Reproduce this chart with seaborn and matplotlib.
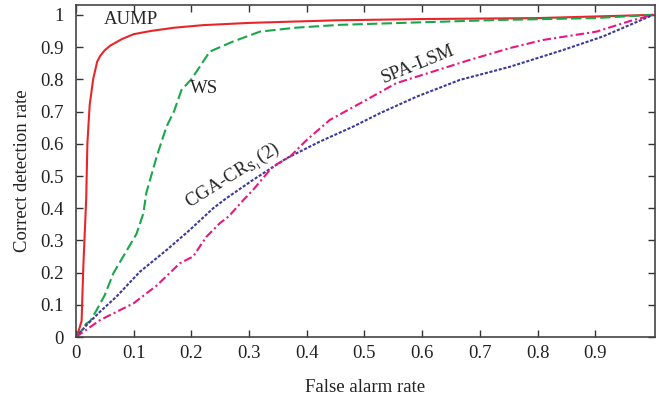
import seaborn as sns
import matplotlib.pyplot as plt
import pandas as pd
import numpy as np

# ROC curves (false alarm rate, correct detection rate)
aump_x = [0, 0.005, 0.01, 0.013, 0.018, 0.02, 0.024, 0.03, 0.037, 0.042, 0.05, 0.06, 0.08, 0.1,
          0.13, 0.17, 0.22, 0.3, 0.45, 0.6, 0.8, 1.0]
aump_y = [0, 0.02, 0.05, 0.22, 0.43, 0.6, 0.72, 0.8, 0.855, 0.872, 0.89, 0.905, 0.925, 0.94,
          0.95, 0.96, 0.968, 0.975, 0.983, 0.987, 0.99, 1.0]

ws_x = [0, 0.01, 0.018, 0.025, 0.036, 0.05, 0.065, 0.082, 0.105, 0.117, 0.122, 0.14, 0.157,
        0.17, 0.183, 0.2, 0.215, 0.232, 0.272, 0.319, 0.38, 0.457, 0.6, 0.73, 0.9, 1.0]
ws_y = [0, 0.02, 0.042, 0.05, 0.084, 0.13, 0.198, 0.25, 0.32, 0.384, 0.447, 0.56, 0.653,
        0.7, 0.767, 0.8, 0.84, 0.886, 0.917, 0.948, 0.96, 0.969, 0.977, 0.984, 0.99, 1.0]

cga_x = [0, 0.02, 0.042, 0.07, 0.111, 0.157, 0.197, 0.238, 0.26, 0.307, 0.365, 0.423, 0.48,
         0.527, 0.59, 0.665, 0.752, 0.844, 0.913, 0.96, 1.0]
cga_y = [0, 0.04, 0.079, 0.125, 0.203, 0.27, 0.332, 0.4, 0.43, 0.488, 0.555, 0.607, 0.653,
         0.695, 0.746, 0.798, 0.839, 0.891, 0.933, 0.969, 1.0]

spa_x = [0, 0.042, 0.1, 0.14, 0.18, 0.203, 0.226, 0.249, 0.265, 0.29, 0.307, 0.341, 0.371,
         0.4, 0.44, 0.503, 0.555, 0.682, 0.752, 0.809, 0.902, 0.96, 1.0]
spa_y = [0, 0.053, 0.105, 0.16, 0.229, 0.25, 0.311, 0.353, 0.375, 0.425, 0.457, 0.529, 0.56,
         0.612, 0.674, 0.736, 0.788, 0.86, 0.897, 0.922, 0.948, 0.981, 1.0]

x_ticks = [0, 0.1, 0.2, 0.3, 0.4, 0.5, 0.6, 0.7, 0.8, 0.9]
y_ticks = [0, 0.1, 0.2, 0.3, 0.4, 0.5, 0.6, 0.7, 0.8, 0.9, 1.0]
y_tick_labels = ['0', '0.1', '0.2', '0.3', '0.4', '0.5', '0.6', '0.7', '0.8', '0.9', '1']
x_tick_labels = ['0', '0.1', '0.2', '0.3', '0.4', '0.5', '0.6', '0.7', '0.8', '0.9']

sns.set_style('ticks')
plt.rcParams['font.family'] = ['Liberation Serif', 'DejaVu Serif']
plt.rcParams['mathtext.fontset'] = 'stix'

fig = plt.figure(figsize=(6.71, 3.99), dpi=100)
ax = fig.add_axes([0.113, 0.155, 0.863, 0.832])

sns.lineplot(x=aump_x, y=aump_y, ax=ax, color='#e8262a', lw=1.5, sort=False, estimator=None)
sns.lineplot(x=ws_x, y=ws_y, ax=ax, color='#1aa64a', lw=1.5, sort=False, estimator=None,
             linestyle=(0, (5, 2)))
sns.lineplot(x=cga_x, y=cga_y, ax=ax, color='#3a3a9c', lw=1.5, sort=False, estimator=None,
             linestyle=(0, (1.5, 0.8)))
sns.lineplot(x=spa_x, y=spa_y, ax=ax, color='#e8177f', lw=1.5, sort=False, estimator=None,
             linestyle=(0, (4, 1.5, 1, 1.5)))

# curve labels
ax.text(0.095, 0.985, 'AUMP', fontsize=13.5, ha='center', va='center')
ax.text(0.222, 0.773, 'WS', fontsize=13.5, ha='center', va='center')
ax.text(0.592, 0.845, 'SPA-LSM', fontsize=13.5, ha='center', va='center', rotation=22)
ax.text(0.272, 0.5, r'CGA-CR$_{\mathrm{S}_1}$(2)', fontsize=13.5, ha='center', va='center',
        rotation=32)

ax.set_xlim(0, 1.003)
ax.set_ylim(0, 1.03)
ax.set_xticks(x_ticks)
ax.set_xticklabels(x_tick_labels)
ax.set_yticks(y_ticks)
ax.set_yticklabels(y_tick_labels)
ax.tick_params(direction='in', length=5, width=1, top=True, right=True,
               labelsize=13.5, colors='#333333', labelcolor='#222222')
ax.tick_params(axis='y', pad=9)
ax.tick_params(axis='x', pad=6)
for s in ax.spines.values():
    s.set_visible(True)
    s.set_color('#444444')
    s.set_linewidth(1.2)

ax.set_xlabel('False alarm rate', fontsize=13.5, color='#222222', labelpad=12)
ax.set_ylabel('Correct detection rate', fontsize=13.5, color='#222222', labelpad=6)

fig.savefig('out.png', dpi=100)
